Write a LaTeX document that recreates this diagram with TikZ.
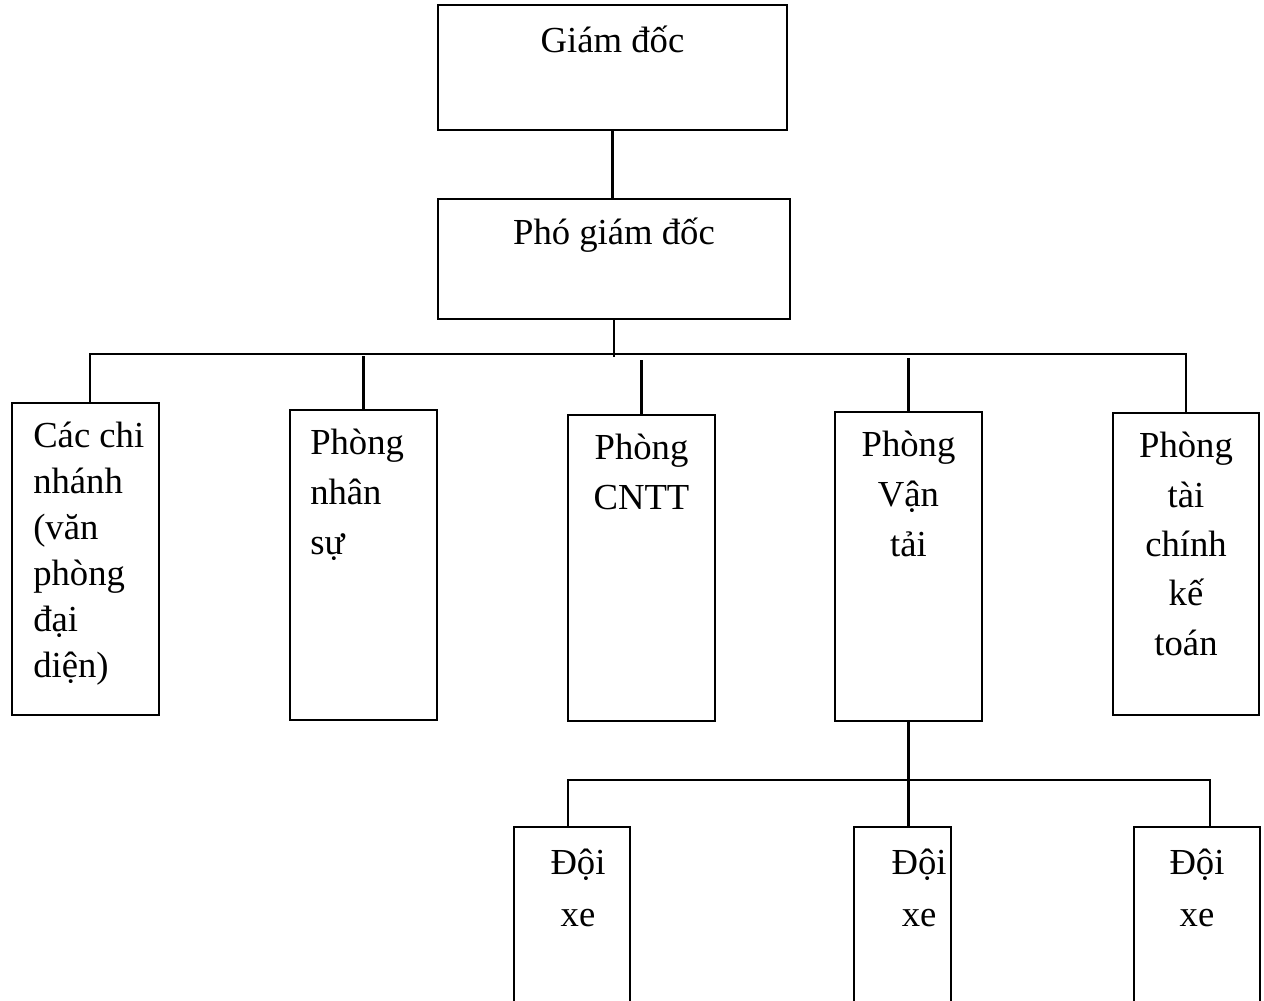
\documentclass[tikz,border=0pt]{standalone}
\usepackage{fontspec}
\setmainfont{Liberation Serif}
\usetikzlibrary{positioning}

\tikzset{
  box/.style 2 args={draw, line width=1.6pt, minimum width=#1*0.75pt, minimum height=#2*0.75pt,
    inner sep=0pt, outer sep=0pt, anchor=north west},
  lbl/.style={inner sep=0pt, align=center, anchor=north, yshift=-7.5pt,
    font=\fontsize{27.5}{37.5}\selectfont, execute at begin node={\rule{0pt}{28pt}}},
  lbll/.style={lbl, align=left, anchor=north west},
  low/.style={yshift=-6.75pt},
  wire/.style={line width=1.6pt},
}

\begin{document}
\begin{tikzpicture}[x=0.75pt,y=0.75pt,yscale=-1,xscale=1]
\useasboundingbox (0,0) rectangle (1264,1000);

% boxes
\node[box={349}{125}] (gd) at (438,5) {};
\node[box={352}{120}] (pgd) at (438,199) {};
\node[box={147}{312}] (cn) at (12,403) {};
\node[box={147}{310}] (ns) at (290,410) {};
\node[box={147}{306}] (cntt) at (568,415) {};
\node[box={147}{309}] (vt) at (835,412) {};
\node[box={146}{302}] (tc) at (1113,413) {};
\node[box={116}{190}] (dx1) at (514,827) {};
\node[box={97}{190}] (dx2) at (854,827) {};
\node[box={126}{190}] (dx3) at (1134,827) {};

% texts
\node[lbl] (gd-t) at (gd.north) {Giám đốc};
\node[lbl] (pgd-t) at ([yshift=-1.5pt]pgd.north) {Phó giám đốc};
\node[lbll, low, font=\fontsize{27.5}{34.5}\selectfont] (cn-t) at ([xshift=15.75pt]cn.north west)
  {Các chi\\nhánh\\(văn\\phòng\\đại\\diện)};
\node[lbll, low] (ns-t) at ([xshift=15pt]ns.north west) {Phòng\\nhân\\sự};
\node[lbl, low] (cntt-t) at (cntt.north) {Phòng\\CNTT};
\node[lbl, low] (vt-t) at (vt.north) {Phòng\\Vận\\tải};
\node[lbl, low, font=\fontsize{27.5}{37}\selectfont] (tc-t) at (tc.north) {Phòng\\tài\\chính\\kế\\toán};
\tikzset{dxt/.style={lbl, yshift=-9pt, font=\fontsize{27.5}{39}\selectfont}}
\node[dxt] (dx1-t) at ([xshift=4.5pt]dx1.north) {Đội\\xe};
\node[dxt] (dx2-t) at ([xshift=12.5pt]dx2.north) {Đội\\xe};
\node[dxt] (dx3-t) at (dx3.north) {Đội\\xe};

% connectors
\draw[wire] (gd.south) -- (gd.south |- pgd.north);
\draw[wire] (pgd.south) -- ++(0,38);
\draw[wire] ([xshift=3.4pt]cn.north) |- (tc.north |- 0,354) -- (tc.north);
\foreach \n/\y in {ns/356, cntt/360, vt/358}
  \draw[wire] (\n.north) -- (\n.north |- 0,\y);

\coordinate (j1) at (568,780);
\coordinate (j3) at (1210,780);
\draw[wire] (vt.south) -- (vt.south |- dx2.north);
\draw[wire] (dx1.north -| j1) |- (j3) -- (dx3.north -| j3);

\end{tikzpicture}
\end{document}
